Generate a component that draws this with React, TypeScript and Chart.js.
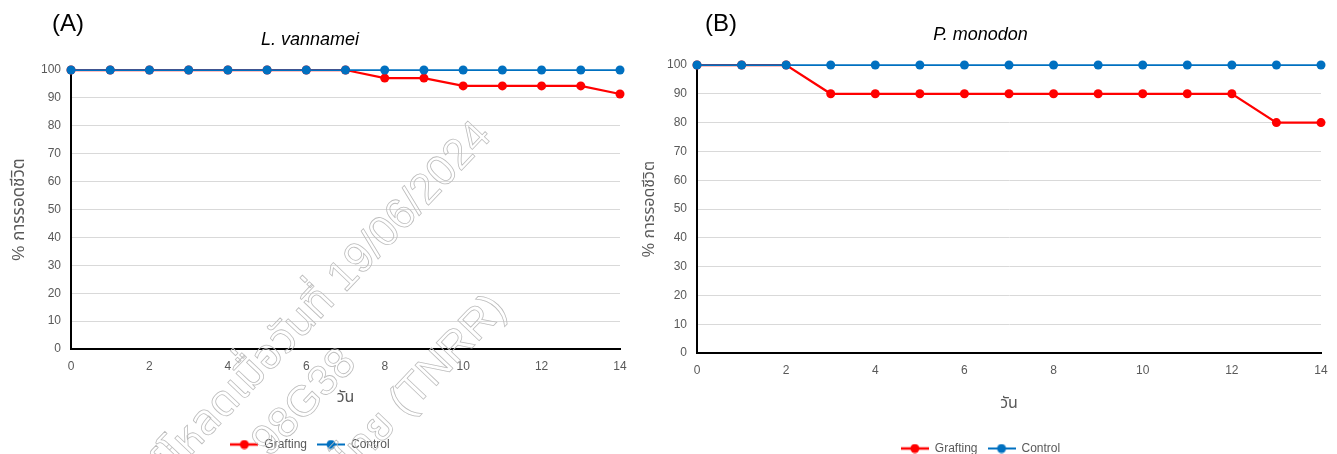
import React, { useEffect, useRef } from "react";
import { Chart, registerables } from "chart.js";

Chart.register(...registerables);

const days = [0, 1, 2, 3, 4, 5, 6, 7, 8, 9, 10, 11, 12, 13, 14];
const vannameiGrafting = [100, 100, 100, 100, 100, 100, 100, 100, 97.1, 97.1, 94.3, 94.3, 94.3, 94.3, 91.4];
const vannameiControl = [100, 100, 100, 100, 100, 100, 100, 100, 100, 100, 100, 100, 100, 100, 100];
const monodonGrafting = [100, 100, 100, 90, 90, 90, 90, 90, 90, 90, 90, 90, 90, 80, 80];
const monodonControl = [100, 100, 100, 100, 100, 100, 100, 100, 100, 100, 100, 100, 100, 100, 100];
const seriesNames = ["Grafting", "Control"];
const chartTitles = ["L. vannamei", "P. monodon"];
const panelLabels = ["(A)", "(B)"];
const xAxisTitle = "วัน";
const yAxisTitle = "% การรอดชีวิต";
const watermarkLines = ["ดาวน์โหลดเมื่อวันที่ 19/06/2024", "98G38", "คลังข้อมูลงานวิจัยไทย (TNRR)"];

const RED = "#FF0000";
const BLUE = "#0070C0";
const GREY_TEXT = "#595959";
const FONT = '"Liberation Sans", Arial, "Noto Sans Thai", sans-serif';

function markerImage(color: string, lw: number) {
  const c = document.createElement("canvas");
  c.width = 28;
  c.height = 10;
  const ctx = c.getContext("2d")!;
  ctx.strokeStyle = color;
  ctx.lineWidth = lw;
  ctx.beginPath();
  ctx.moveTo(0, 5);
  ctx.lineTo(28, 5);
  ctx.stroke();
  ctx.fillStyle = color;
  ctx.beginPath();
  ctx.arc(14, 5, 4.5, 0, Math.PI * 2);
  ctx.fill();
  return c;
}

type Geo = {
  left: number;
  width: number;
  padding: { left: number; right: number; top: number; bottom: number };
  titlePadTop: number;
  titlePadBottom: number;
  xHeight: number;
  xTitlePadBottom: number;
  yWidth: number;
  yTitlePadTop: number;
  yTitleSize: number;
};

function Panel(props: { geo: Geo; grafting: number[]; control: number[]; title: string }) {
  const ref = useRef<HTMLCanvasElement>(null);
  const { geo, grafting, control, title } = props;
  useEffect(() => {
    const imgs = [markerImage(RED, 2.5), markerImage(BLUE, 2)];
    const chart = new Chart(ref.current!, {
      type: "line",
      data: {
        datasets: [
          {
            label: seriesNames[0],
            data: days.map((d, i) => ({ x: d, y: grafting[i] })),
            borderColor: RED,
            backgroundColor: RED,
            pointBackgroundColor: RED,
            pointBorderColor: RED,
            borderWidth: 2.25,
            pointRadius: 4.5,
            pointBorderWidth: 0,
            tension: 0,
            clip: false as any,
            order: 1,
          },
          {
            label: seriesNames[1],
            data: days.map((d, i) => ({ x: d, y: control[i] })),
            borderColor: BLUE,
            backgroundColor: BLUE,
            pointBackgroundColor: BLUE,
            pointBorderColor: BLUE,
            borderWidth: 1.75,
            pointRadius: 4.5,
            pointBorderWidth: 0,
            tension: 0,
            clip: false as any,
            order: 0,
          },
        ],
      },
      options: {
        responsive: false,
        animation: false,
        layout: { padding: geo.padding },
        plugins: {
          title: {
            display: true,
            text: title,
            color: "#000",
            font: { family: FONT, size: 18, style: "italic", weight: "normal" },
            padding: { top: geo.titlePadTop, bottom: geo.titlePadBottom },
          },
          legend: {
            position: "bottom",
            labels: {
              usePointStyle: true,
              pointStyleWidth: 28,
              boxHeight: 10,
              color: GREY_TEXT,
              font: { family: FONT, size: 12 },
              padding: 10,
              sort: (a: any, b: any) => a.datasetIndex - b.datasetIndex,
              generateLabels: (ch: any) =>
                (Chart.defaults.plugins.legend.labels as any)
                  .generateLabels(ch)
                  .map((l: any) => ({ ...l, pointStyle: imgs[l.datasetIndex] })),
            },
          },
          tooltip: { enabled: false },
        },
        scales: {
          x: {
            type: "linear",
            min: 0,
            max: 14,
            ticks: { stepSize: 2, color: GREY_TEXT, font: { family: FONT, size: 12 }, padding: 2 },
            grid: { display: false },
            border: { color: "#000", width: 2 },
            title: {
              display: true,
              text: xAxisTitle,
              color: GREY_TEXT,
              font: { family: FONT, size: 16 },
              padding: { top: 0, bottom: geo.xTitlePadBottom },
            },
            afterFit: (s: any) => {
              s.height = geo.xHeight;
            },
          },
          y: {
            min: 0,
            max: 100,
            ticks: { stepSize: 10, color: GREY_TEXT, font: { family: FONT, size: 12 }, padding: 10 },
            grid: { color: "#d9d9d9", lineWidth: 1, drawTicks: false },
            border: { color: "#000", width: 2 },
            title: {
              display: true,
              text: yAxisTitle,
              color: GREY_TEXT,
              font: { family: FONT, size: geo.yTitleSize },
              padding: { top: geo.yTitlePadTop, bottom: 0 },
            },
            afterFit: (s: any) => {
              s.width = geo.yWidth;
            },
          },
        },
      } as any,
    });
    return () => chart.destroy();
  }, []);
  return (
    <canvas
      ref={ref}
      width={geo.width}
      height={454}
      style={{ position: "absolute", left: geo.left, top: 0, width: geo.width, height: 454 }}
    />
  );
}

const geoA: Geo = {
  left: 0,
  width: 650,
  padding: { left: 0, right: 30, top: 0, bottom: -6.5 },
  titlePadTop: 29,
  titlePadBottom: 19.4,
  xHeight: 79.5,
  xTitlePadBottom: 21.5,
  yWidth: 71,
  yTitlePadTop: 9,
  yTitleSize: 17,
};

const geoB: Geo = {
  left: 640,
  width: 697,
  padding: { left: 0, right: 16, top: 0, bottom: -10.5 },
  titlePadTop: 24.2,
  titlePadBottom: 19.2,
  xHeight: 79.5,
  xTitlePadBottom: 19.5,
  yWidth: 57,
  yTitlePadTop: 0,
  yTitleSize: 16,
};

function Watermark() {
  const line = (text: string, x: number, y: number, key: number) => (
    <div
      key={key}
      style={{ position: "absolute", left: x, top: y, width: 0, height: 0, transform: "rotate(-46.5deg)", transformOrigin: "0 0" }}
    >
      <div
        style={{
          position: "absolute",
          right: 0,
          top: -26,
          whiteSpace: "nowrap",
          fontFamily: FONT,
          fontSize: 43,
          lineHeight: "52px",
          color: "transparent",
          WebkitTextStroke: "0.8px #bdbdbd",
        }}
      >
        {text}
      </div>
    </div>
  );
  return (
    <div style={{ position: "absolute", left: 0, top: 0, width: 1337, height: 454, pointerEvents: "none" }}>
      {line(watermarkLines[0], 482, 127, 0)}
      {line(watermarkLines[1], 347, 354, 1)}
      {line(watermarkLines[2], 497, 300, 2)}
    </div>
  );
}

export default function App() {
  return (
    <div style={{ position: "absolute", left: 0, top: 0, width: 1337, height: 454, overflow: "hidden", background: "#fff" }}>
      <Panel geo={geoA} grafting={vannameiGrafting} control={vannameiControl} title={chartTitles[0]} />
      <Panel geo={geoB} grafting={monodonGrafting} control={monodonControl} title={chartTitles[1]} />
      <div style={{ position: "absolute", left: 52, top: 9, fontFamily: FONT, fontSize: 24, lineHeight: "28px", color: "#000" }}>
        {panelLabels[0]}
      </div>
      <div style={{ position: "absolute", left: 705, top: 9, fontFamily: FONT, fontSize: 24, lineHeight: "28px", color: "#000" }}>
        {panelLabels[1]}
      </div>
      <Watermark />
    </div>
  );
}
